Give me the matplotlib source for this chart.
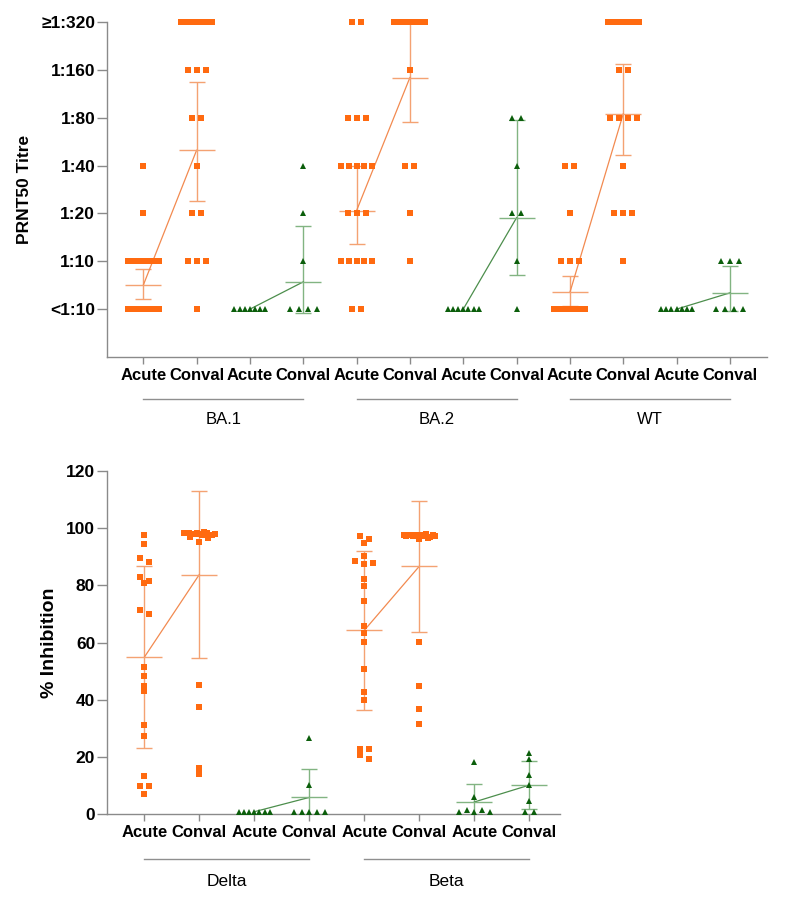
import numpy as np
import matplotlib
matplotlib.use("Agg")
import matplotlib.pyplot as plt

plt.rcParams['font.family'] = ['Liberation Sans', 'DejaVu Sans']

# ---------------- DATA ----------------
# Top panel: PRNT50 titre, counts of samples per titre level (<1:10 ... >=1:320)
titre_labels = ["<1:10", "1:10", "1:20", "1:40", "1:80", "1:160", "\u22651:320"]
top_variants = ["BA.1", "BA.2", "WT"]
top_categories = ["Acute", "Conval"] * 6
top_cohort = [0, 0, 1, 1] * 3          # 0 = orange cohort, 1 = green cohort

ba1_counts = [[9, 9, 1, 1, 0, 0, 0],
              [1, 3, 2, 1, 2, 3, 8],
              [7, 0, 0, 0, 0, 0, 0],
              [4, 1, 1, 1, 0, 0, 0]]
ba2_counts = [[2, 5, 3, 5, 3, 0, 2],
              [0, 1, 1, 2, 0, 1, 15],
              [7, 0, 0, 0, 0, 0, 0],
              [1, 1, 2, 1, 2, 0, 0]]
wt_counts = [[14, 3, 1, 2, 0, 0, 0],
             [0, 1, 3, 1, 4, 2, 9],
             [7, 0, 0, 0, 0, 0, 0],
             [4, 3, 0, 0, 0, 0, 0]]

top_means = [0.50, 3.32, 0.00, 0.57, 2.06, 4.84, 0.00, 1.91, 0.35, 4.08, 0.00, 0.34]
top_err_lo = [0.22, 2.26, np.nan, -0.09, 1.36, 3.92, np.nan, 0.71, 0.06, 3.23, np.nan, -0.04]
top_err_hi = [0.83, 4.74, np.nan, 1.74, 2.99, 6.00, np.nan, 3.95, 0.70, 5.12, np.nan, 0.90]

# Bottom panel: % inhibition
bottom_variants = ["Delta", "Beta"]
bottom_categories = ["Acute", "Conval"] * 4
bottom_cohort = [0, 0, 1, 1] * 2

delta_acute = [97.5, 94.4, 89.7, 88.3, 83.0, 81.6, 80.7, 71.3, 70.1, 51.6, 48.2,
               44.9, 43.0, 31.2, 27.4, 13.5, 9.9, 9.9, 7.0]
delta_conval = [98.5, 98.3, 98.2, 98.0, 97.9, 98.4, 98.1, 97.8, 98.6, 98.2, 97.7,
                97.5, 96.8, 95.3, 96.5, 98.0, 45.3, 37.6, 16.1, 14.1]
delta_g_acute = [0.9, 0.9, 0.9, 0.9, 0.9, 0.9, 0.9]
delta_g_conval = [26.8, 10.2, 0.9, 0.9, 0.9, 0.9, 0.9]
beta_acute = [97.3, 96.2, 94.7, 90.3, 88.6, 87.5, 87.7, 82.2, 79.8, 74.4, 65.8,
              63.5, 60.3, 50.7, 42.9, 39.8, 22.8, 22.8, 20.8, 19.3]
beta_conval = [97.6, 97.4, 97.5, 97.8, 97.3, 97.6, 97.2, 97.7, 97.5, 97.4, 97.9,
               96.1, 96.6, 97.0, 97.5, 97.3, 60.1, 44.7, 36.8, 31.7]
beta_g_acute = [18.2, 5.9, 0.7, 1.5, 0.7, 1.5, 0.7]
beta_g_conval = [21.5, 19.2, 13.7, 10.2, 4.6, 0.7, 0.7]

bottom_means = [54.9, 83.8, 0.9, 5.9, 64.3, 86.7, 4.3, 10.2]
bottom_err_lo = [23.3, 54.5, np.nan, -3.9, 36.6, 63.8, -2.0, 1.9]
bottom_err_hi = [86.7, 112.9, np.nan, 15.7, 92.1, 109.5, 10.6, 18.6]

# ---------------- STYLE ----------------
W, H = 799, 897
marker_color = ["#FF6A10", "#0B5E0B"]
bar_color = ["#F4A272", "#82B482"]
link_color = ["#F28A50", "#4C8E4C"]
markers = ["s", "^"]
msizes = [3.9, 3.8]
axis_gray = "#8A8A8A"

fig = plt.figure(figsize=(W / 100, H / 100), dpi=100)


def px_axes(l, t, r, b):
    return fig.add_axes([l / W, (H - b) / H, (r - l) / W, (b - t) / H])


def swarm_offsets(values, py, thresh=4.8, spacing=9.0, maxspan=31.0):
    vals = np.asarray(values, float)
    order = np.argsort(-vals, kind="stable")
    offs = np.zeros(len(vals))
    rows, cur = [], [order[0]]
    for idx in order[1:]:
        if (vals[cur[0]] - vals[idx]) * py < thresh:
            cur.append(idx)
        else:
            rows.append(cur)
            cur = [idx]
    rows.append(cur)
    for row in rows:
        row = sorted(row)
        n = len(row)
        if n > 1:
            s = min(spacing, maxspan / (n - 1))
            for k, idx in enumerate(row):
                offs[idx] = (k - (n - 1) / 2) * s
    return offs


def style_axes(ax):
    for s in ["top", "right"]:
        ax.spines[s].set_visible(False)
    for s in ["left", "bottom"]:
        ax.spines[s].set_color(axis_gray)
        ax.spines[s].set_linewidth(1.0)
    ax.tick_params(axis="y", length=7, width=1.0, color=axis_gray, pad=1.5,
                   labelsize=12.5)
    ax.tick_params(axis="x", length=5, width=1.0, color=axis_gray, pad=3,
                   labelsize=12)
    for lab in ax.get_xticklabels() + ax.get_yticklabels():
        lab.set_fontweight("bold")


def draw_panel(ax, data_lists, means, lo, hi, cohorts, px_x, px_y):
    for i, vals in enumerate(data_lists):
        c = cohorts[i]
        offs = swarm_offsets(vals, px_y) / px_x
        ax.plot(i + offs, vals, linestyle="none", marker=markers[c],
                ms=msizes[c], mew=0, color=marker_color[c], clip_on=False,
                zorder=4)
        if not np.isnan(lo[i]):
            ax.errorbar([i], [means[i]],
                        yerr=[[means[i] - lo[i]], [hi[i] - means[i]]],
                        fmt="_", ms=25.5, mew=1.0, color=bar_color[c],
                        ecolor=bar_color[c], elinewidth=1.0, capsize=6.1,
                        capthick=1.0, zorder=3)
    for i in range(0, len(data_lists), 2):
        c = cohorts[i]
        ax.plot([i, i + 1], [means[i], means[i + 1]], color=link_color[c],
                lw=0.9, zorder=3)


# ---------------- TOP PANEL ----------------
axT = px_axes(107, 22, 767, 357)
tpx_x = 53.33
tpx_y = 335 / 7.0
axT.set_xlim(-0.68, -0.68 + 660 / tpx_x)
axT.set_ylim(-1, 6)
top_lists = []
for counts in ba1_counts + ba2_counts + wt_counts:
    top_lists.append(np.repeat(np.arange(7), counts).astype(float))
draw_panel(axT, top_lists, top_means, top_err_lo, top_err_hi, top_cohort,
           tpx_x, tpx_y)
axT.set_yticks(range(7))
axT.set_yticklabels(titre_labels)
axT.set_xticks(range(12))
axT.set_xticklabels(top_categories)
style_axes(axT)
axT.set_ylabel("PRNT50 Titre", fontsize=12.5, fontweight="bold")
axT.yaxis.set_label_coords(-0.1136, 0.5)

trT = axT.get_xaxis_transform()
for g, name in enumerate(top_variants):
    x0, x1 = 4 * g, 4 * g + 3
    axT.plot([x0, x1], [-0.1254, -0.1254], color="#8F8F8F", lw=1.0,
             transform=trT, clip_on=False)
    axT.text((x0 + x1) / 2, -0.188, name, transform=trT, ha="center",
             va="center", fontsize=12)

# ---------------- BOTTOM PANEL ----------------
axB = px_axes(107, 471, 560, 814.3)
bpx_x = 55.0
bpx_y = 343.3 / 120.0
axB.set_xlim(-0.678, -0.678 + 453 / bpx_x)
axB.set_ylim(0, 120)
bottom_lists = [delta_acute, delta_conval, delta_g_acute, delta_g_conval,
                beta_acute, beta_conval, beta_g_acute, beta_g_conval]
draw_panel(axB, bottom_lists, bottom_means, bottom_err_lo, bottom_err_hi,
           bottom_cohort, bpx_x, bpx_y)
axB.set_yticks(range(0, 121, 20))
axB.set_xticks(range(8))
axB.set_xticklabels(bottom_categories)
style_axes(axB)
axB.set_ylabel("% Inhibition", fontsize=14, fontweight="bold")
axB.yaxis.set_label_coords(-0.108, 0.5)

trB = axB.get_xaxis_transform()
for g, name in enumerate(bottom_variants):
    x0, x1 = 4 * g, 4 * g + 3
    axB.plot([x0, x1], [-0.131, -0.131], color="#8F8F8F", lw=1.0,
             transform=trB, clip_on=False)
    axB.text((x0 + x1) / 2, -0.197, name, transform=trB, ha="center",
             va="center", fontsize=12.5)

fig.savefig("out.png", dpi=100)
